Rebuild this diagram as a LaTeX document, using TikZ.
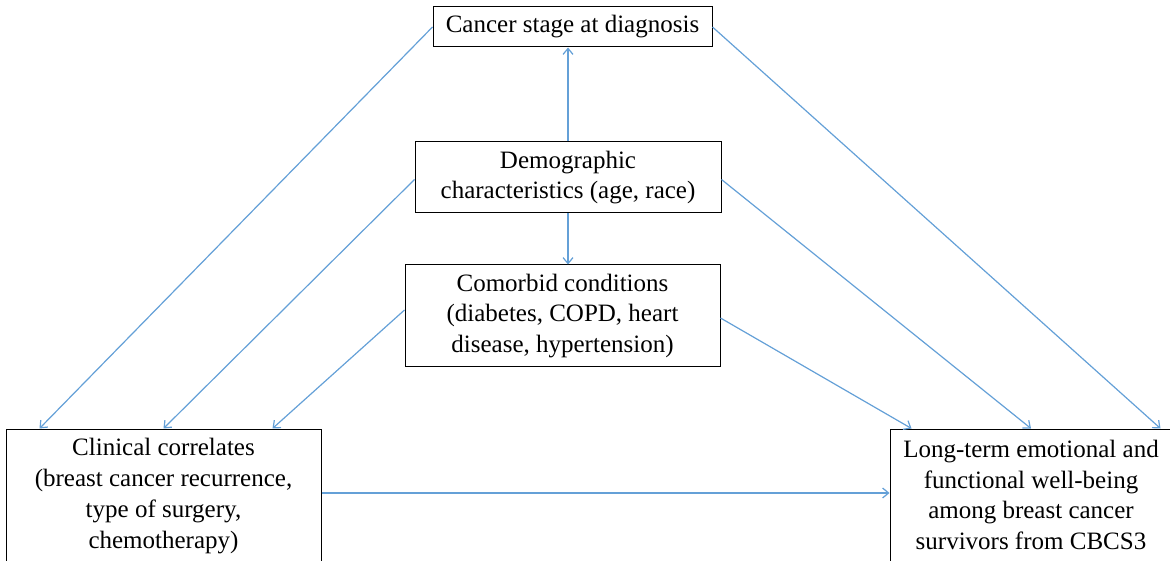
\documentclass[tikz,border=0pt]{standalone}
\usepackage{fontspec}
\setmainfont{Liberation Serif}
\usepackage{xcolor}
\definecolor{link-blue}{RGB}{100,160,215}
\usetikzlibrary{arrows.meta}
\tikzset{
  factor/.style={
    draw=black,
    line width=1pt,
    align=center,
    inner sep=0pt,
    font=\fontsize{25}{30.8}\selectfont
  },
  link/.style={
    draw=link-blue,
    line width=1.2pt,
    -{Straight Barb[length=6pt,width=10pt]}
  },
}

\begin{document}
\begin{tikzpicture}[x=1pt,y=1pt]

  \def\WIDTH{1170}
  \def\HEIGHT{560}

  \useasboundingbox (0,0) rectangle (\WIDTH,\HEIGHT);

  % boxes
  \node[factor, minimum width=279pt, minimum height=40pt] (stage) at (572.5,533) {Cancer stage at diagnosis};
  \node[factor, minimum width=306pt, minimum height=71pt] (demo) at (568,382.5) {Demographic\\characteristics (age, race)};
  \node[factor, minimum width=315pt, minimum height=102pt] (comorbid) at (562.5,244) {Comorbid conditions\\(diabetes, COPD, heart\\disease, hypertension)};
  \node[factor, minimum width=315pt, minimum height=262pt] (clinical) at (163.5,0) {};
  \node[factor, minimum width=282pt, minimum height=262pt] (outcome) at (1031,0) {};
  \node[factor, draw=none] (clinical-text) at (163.5,64) {Clinical correlates\\(breast cancer recurrence,\\type of surgery,\\chemotherapy)};
  \node[factor, draw=none] (outcome-text) at (1031,65) {Long-term emotional and\\functional well-being\\among breast cancer\\survivors from CBCS3};

  % arrows from the stage box
  \draw[link] (stage.west) -- ([xshift=34pt]clinical.north west);
  \draw[link] (stage.east) -- ([xshift=-12pt]outcome.north east);

  % arrows from the demographic box
  \draw[link] (demo.north) -- (stage.south -| demo.north);
  \draw[link] (demo.south) -- (comorbid.north -| demo.south);
  \draw[link] ([yshift=-2pt]demo.west) -- (clinical.north);
  \draw[link] ([yshift=-2pt]demo.east) -- (outcome.north);

  % arrows from the comorbid box
  \draw[link] ([yshift=6pt]comorbid.west) -- ([xshift=-49pt]clinical.north east);
  \draw[link] ([yshift=-2pt]comorbid.east) -- ([xshift=22pt]outcome.north west);

  % clinical to outcome
  \draw[link] (clinical.east |- 0,67) -- (outcome.west |- 0,67);

\end{tikzpicture}
\end{document}
